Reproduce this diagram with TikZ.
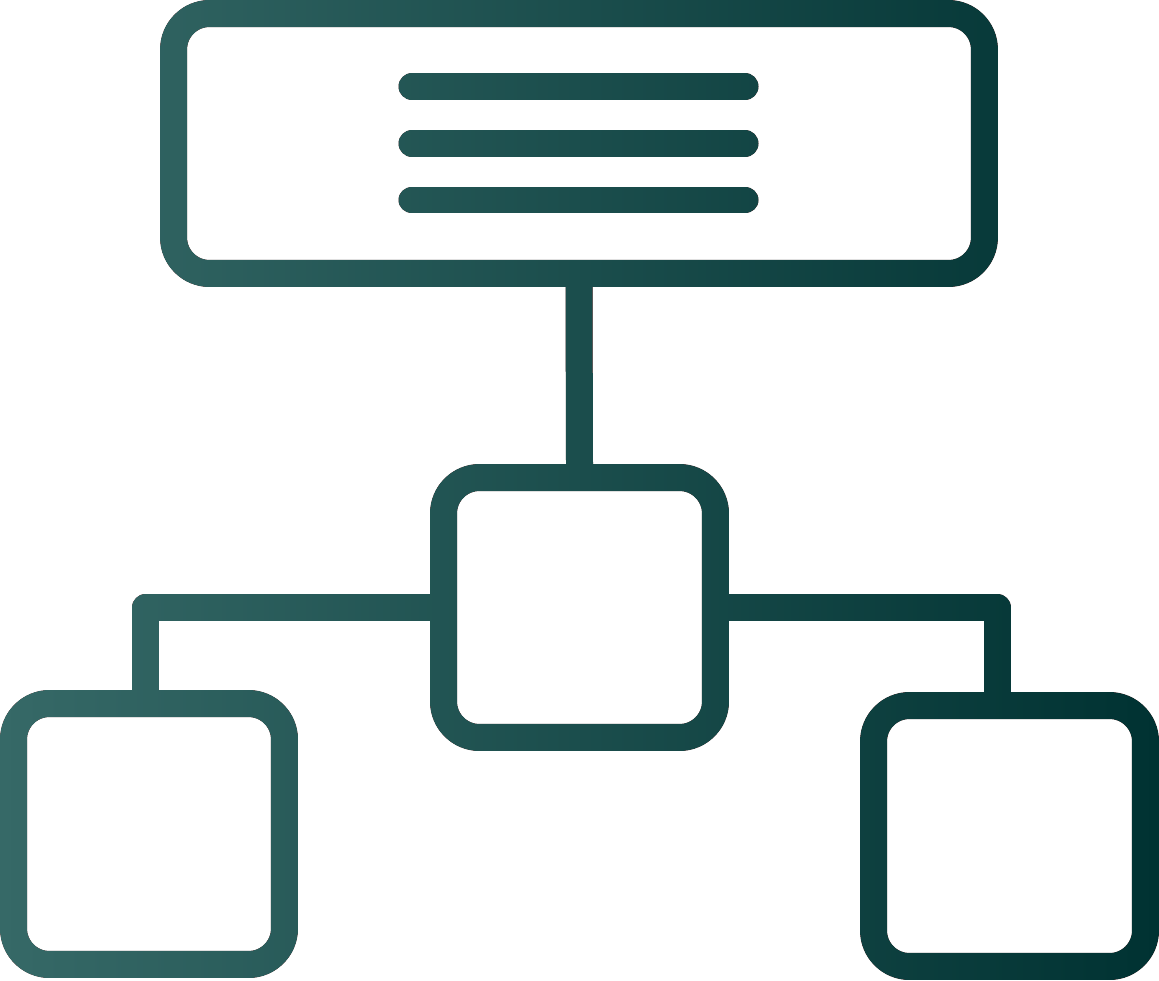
\documentclass[tikz,border=0pt]{standalone}
\usetikzlibrary{calc}
\definecolor{iconL}{RGB}{54,105,103}
\definecolor{iconR}{RGB}{0,50,50}
\begin{document}
\begin{tikzpicture}[x=0.02cm,y=-0.02cm,
	box/.style={draw=black,line width=0.54cm,rounded corners=0.72cm,inner sep=0pt},
	link/.style={draw=black,line width=0.54cm,line join=round},
	txtline/.style={draw=black,line width=0.54cm,line cap=round}]
	\def\W{1159}
	\def\H{980}
	\useasboundingbox (0,0) rectangle (\W,\H);
	\fill[white] (-20,-20) rectangle (\W+20,\H+20);
	% cac khoi
	\node[box,minimum width=16.22cm,minimum height=5.2cm] (top) at (579,143.5) {};
	\node[box,minimum width=5.44cm,minimum height=5.2cm] (mid) at (579.5,607.5) {};
	\node[box,minimum width=5.42cm,minimum height=5.22cm] (lbox) at (149,834) {};
	\node[box,minimum width=5.44cm,minimum height=5.22cm] (rbox) at (1009.5,836) {};
	% ba dong chu
	\foreach \y in {86.5,143.5,200} \draw[txtline] (412,\y) -- (745,\y);
	% duong noi
	\coordinate (jl) at (145.5,607.5);
	\coordinate (jr) at (997.5,607.5);
	\draw[link] (top.south) -- (mid.north);
	\draw[link] (mid.west) -- (jl) -- (jl |- lbox.north);
	\draw[link] (mid.east) -- (jr) -- (jr |- rbox.north);
	% to mau chuyen sac
	\begin{scope}[blend mode=lighten]
		\shade[left color=iconL,right color=iconR] (0,-20) rectangle (\W,\H+20);
	\end{scope}
\end{tikzpicture}
\end{document}
